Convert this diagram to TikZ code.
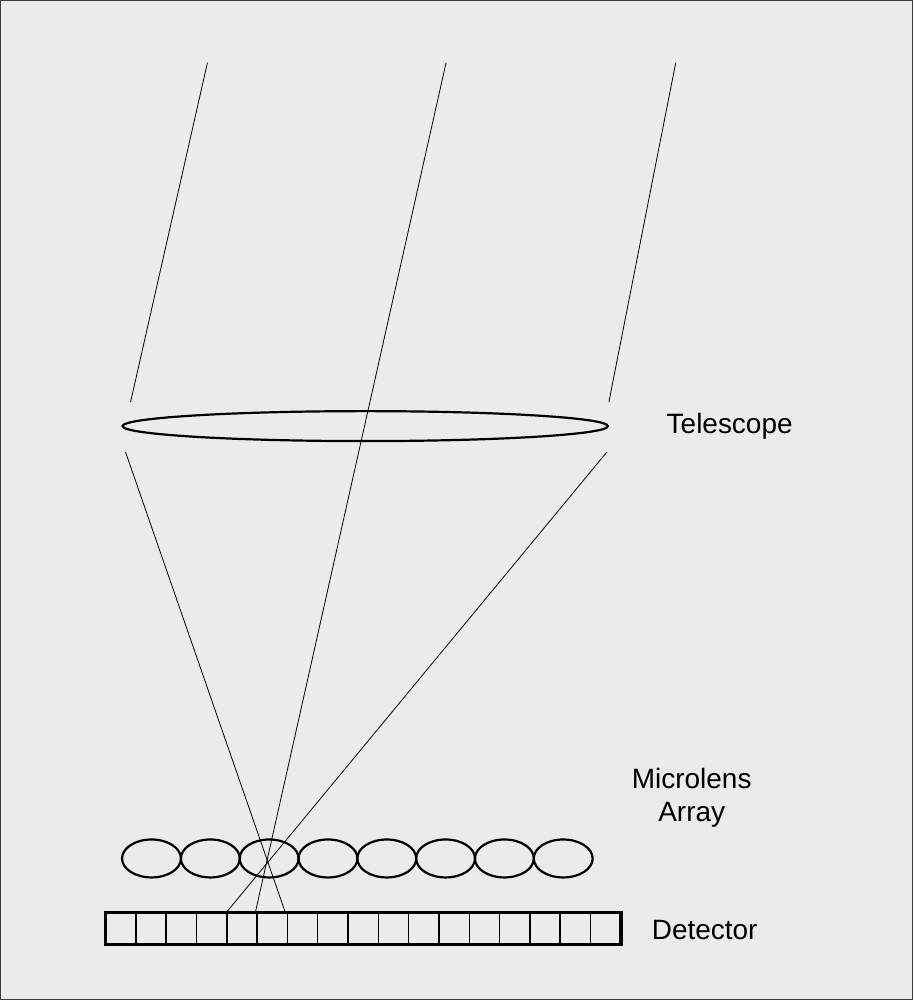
\documentclass[tikz,border=0pt]{standalone}
\usepackage{fontspec}
\setmainfont{Liberation Sans}
\begin{document}
\begin{tikzpicture}[x=1pt,y=-1pt,
    ray/.style={black, line width=0.8pt},
    lensline/.style={black, line width=2.2pt},
    label/.style={font=\fontsize{28}{33}\selectfont, align=center}]
    \def \ncells {17}
    \def \nlens {8}

    % background
    \draw[fill={rgb,255:red,235;green,235;blue,235}, draw={rgb,255:red,60;green,60;blue,60}, line width=1.5pt] (0,0) rectangle (913,1000);

    % telescope
    \draw[lensline] (365,426) ellipse (243 and 15);
    \node[label] (tel) at (730,426) {Telescope};

    % incoming rays
    \coordinate (inA) at (207,62);   \coordinate (outA) at (130,402);
    \coordinate (inB) at (446,62);   \coordinate (outB) at (255,913);
    \coordinate (inC) at (676,62);   \coordinate (outC) at (609,402);
    \draw[ray] (inA) -- (outA);
    \draw[ray] (inB) -- (outB);
    \draw[ray] (inC) -- (outC);

    % focused rays
    \coordinate (fA) at (125,452);   \coordinate (dA) at (285,913);
    \coordinate (fC) at (607,452);   \coordinate (dC) at (226,913);
    \draw[ray] (fA) -- (dA);
    \draw[ray] (fC) -- (dC);

    % microlens array
    \foreach \s in {1,...,\nlens}{
        \pgfmathsetmacro{\cx}{151 + 58.9*(\s-1)}
        \draw[lensline] (\cx,859) ellipse (29.5 and 19);
    };
    \node[label] (mla) at (692,798) {Microlens\\Array};

    % detector
    \foreach \s in {1,...,\ncells}{
        \pgfmathsetmacro{\x}{105 + 516/\ncells*\s}
        \draw[line width=1.5pt] (\x,913) -- (\x,945);
    };
    \draw[line width=3.5pt] (105,913) rectangle (621,945);
    \node[label] (det) at (705,931) {Detector};
\end{tikzpicture}
\end{document}
